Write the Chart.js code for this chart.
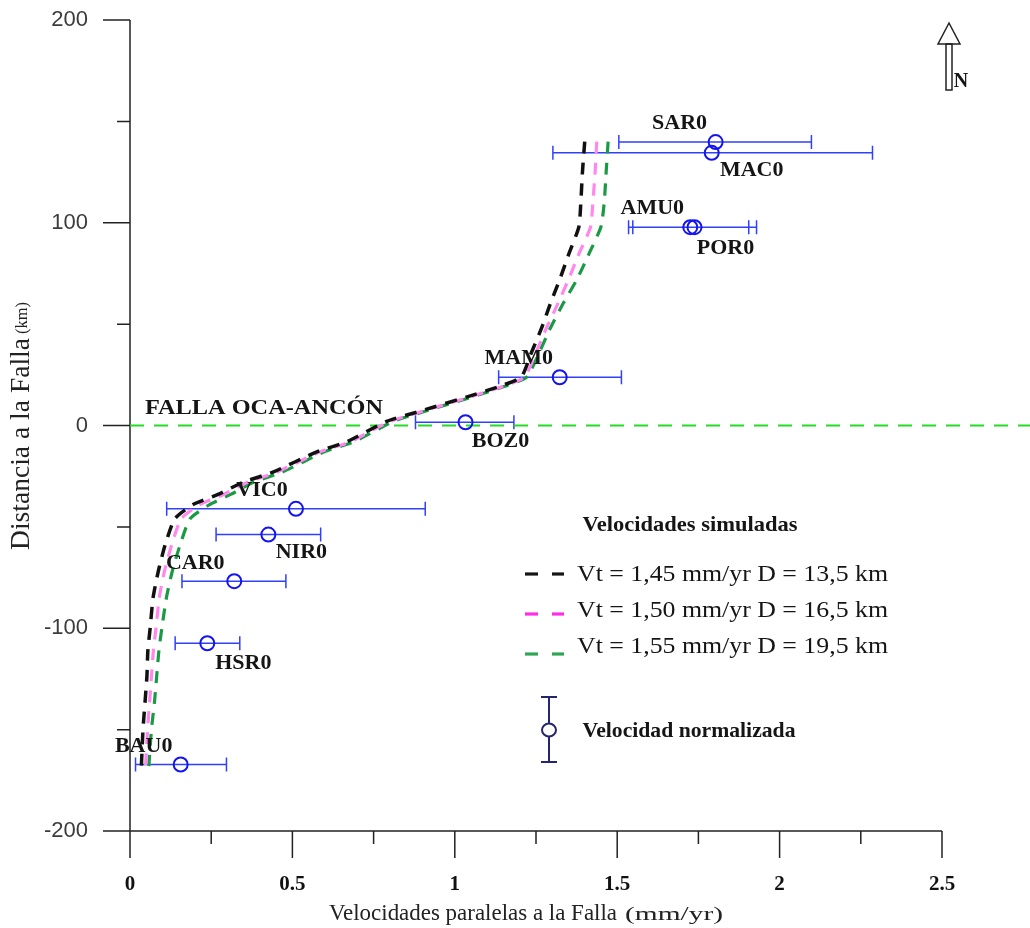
<!DOCTYPE html>
<html>
<head>
<meta charset="utf-8">
<script src="https://cdn.jsdelivr.net/npm/chart.js@4.4.1/dist/chart.umd.min.js"></script>
<style>
  html, body { margin: 0; padding: 0; background: #fff; }
</style>
</head>
<body>
<canvas id="perfil" width="1030" height="928"></canvas>
<script>
// Estaciones GPS: velocidad paralela a la falla (mm/yr) y distancia a la falla (km)
const stations = ['SAR0', 'MAC0', 'AMU0', 'POR0', 'MAM0', 'BOZ0', 'VIC0', 'NIR0', 'CAR0', 'HSR0', 'BAU0'];
const velX  = [1.803, 1.791, 1.725, 1.738, 1.323, 1.033, 0.511, 0.426, 0.321, 0.238, 0.156];
const distY = [139.8, 134.5, 97.8, 97.8, 23.8, 1.6, -41.1, -53.8, -76.8, -107.4, -167.2];
const velLo = [1.505, 1.302, 1.535, 1.548, 1.135, 0.879, 0.113, 0.265, 0.160, 0.139, 0.017];
const velHi = [2.098, 2.286, 1.905, 1.929, 1.513, 1.182, 0.909, 0.587, 0.480, 0.338, 0.297];

// Velocidades simuladas (modelo)
const modelY = [140, 125, 110, 98, 85, 72, 60, 48, 36, 24, 20, 15, 7, 2, -8, -13, -23, -28, -34, -39, -46, -59, -72, -85, -100, -111, -124, -137, -150, -168];
const modelA = [1.400, 1.393, 1.388, 1.382, 1.352, 1.323, 1.294, 1.267, 1.236, 1.205, 1.150, 1.055, 0.892, 0.790, 0.668, 0.575, 0.440, 0.348, 0.271, 0.194, 0.138, 0.108, 0.087, 0.071, 0.062, 0.055, 0.052, 0.046, 0.040, 0.035];
const modelB = [1.437, 1.432, 1.425, 1.418, 1.383, 1.350, 1.317, 1.282, 1.250, 1.215, 1.160, 1.065, 0.900, 0.800, 0.678, 0.585, 0.452, 0.362, 0.288, 0.215, 0.158, 0.128, 0.106, 0.090, 0.080, 0.072, 0.066, 0.060, 0.054, 0.048];
const modelC = [1.472, 1.466, 1.460, 1.450, 1.414, 1.376, 1.333, 1.294, 1.260, 1.222, 1.165, 1.072, 0.908, 0.810, 0.690, 0.598, 0.468, 0.380, 0.310, 0.245, 0.185, 0.154, 0.130, 0.112, 0.098, 0.089, 0.082, 0.075, 0.066, 0.058];
const modelLabels = ['Vt = 1,45 mm/yr D = 13,5 km', 'Vt = 1,50 mm/yr D = 16,5 km', 'Vt = 1,55 mm/yr D = 19,5 km'];

// Traza de la falla (y = 0)
const faultX = [0, 2.8];
const faultY = [0, 0];

const xTicks = [0, 0.5, 1, 1.5, 2, 2.5];
const yTicks = [-200, -100, 0, 100, 200];

// posición de las etiquetas respecto al círculo (px)
const labelOffsets = [[-36, -19], [40, 18], [-38, -19], [31, 21], [-41, -19], [35, 19], [-34, -19], [33, 18], [-39, -18], [36, 20], [-37, -18]];

const SERIF = '"Liberation Serif", "Times New Roman", serif';
const BLUE = '#1414f0';

function fitText(ctx, str, x, y, w, font, align) {
    ctx.font = font;
    const m = ctx.measureText(str).width;
    const s = w ? w / m : 1;
    ctx.save();
    ctx.translate(x, y);
    ctx.scale(s, 1);
    ctx.textAlign = align || 'center';
    ctx.textBaseline = 'middle';
    ctx.fillText(str, 0, 0);
    ctx.restore();
}

function dash(ctx, x1, x2, y, color, lw) {
    ctx.strokeStyle = color;
    ctx.lineWidth = lw;
    ctx.setLineDash([]);
    ctx.beginPath();
    ctx.moveTo(x1, y);
    ctx.lineTo(x2, y);
    ctx.stroke();
}

const annotate = {
    id: 'annotate',
    beforeDatasetsDraw(chart) {
        const ctx = chart.ctx;
        const xs = chart.scales.x, ys = chart.scales.y;
        const x0 = xs.getPixelForValue(0), y0 = ys.getPixelForValue(-200);
        ctx.save();
        ctx.strokeStyle = '#222';
        ctx.lineWidth = 1.5;
        ctx.beginPath();
        ctx.moveTo(x0, ys.getPixelForValue(200));
        ctx.lineTo(x0, y0);
        ctx.lineTo(xs.getPixelForValue(2.5), y0);
        for (let i = 0; i <= 10; i++) {
            const px = xs.getPixelForValue(i * 0.25);
            ctx.moveTo(px, y0);
            ctx.lineTo(px, y0 + (i % 2 === 0 ? 27 : 13));
        }
        for (let i = 0; i <= 8; i++) {
            const py = ys.getPixelForValue(-200 + i * 50);
            ctx.moveTo(x0, py);
            ctx.lineTo(x0 - (i % 2 === 0 ? 27 : 13), py);
        }
        ctx.stroke();

        // barras de error
        ctx.strokeStyle = '#3040ff';
        ctx.lineWidth = 1.5;
        ctx.beginPath();
        stations.forEach(function (s, i) {
            const py = ys.getPixelForValue(distY[i]);
            const a = xs.getPixelForValue(velLo[i]), b = xs.getPixelForValue(velHi[i]);
            ctx.moveTo(a, py); ctx.lineTo(b, py);
            ctx.moveTo(a, py - 7); ctx.lineTo(a, py + 7);
            ctx.moveTo(b, py - 7); ctx.lineTo(b, py + 7);
        });
        ctx.stroke();
        ctx.restore();
    },
    afterDatasetsDraw(chart) {
        const ctx = chart.ctx;
        const xs = chart.scales.x, ys = chart.scales.y;
        ctx.save();
        ctx.fillStyle = '#151515';
        const bold = 'bold 22px ' + SERIF;
        stations.forEach(function (s, i) {
            const px = xs.getPixelForValue(velX[i]), py = ys.getPixelForValue(distY[i]);
            fitText(ctx, s, px + labelOffsets[i][0], py + labelOffsets[i][1], 0, bold);
        });
        fitText(ctx, 'FALLA OCA-ANCÓN', 264, 408, 238, bold);

        // leyenda
        fitText(ctx, 'Velocidades simuladas', 690, 525, 215, bold);
        const rows = [[575, '#151515', 574], [611, '#ff2ce6', 614], [647, '#2ea655', 654]];
        rows.forEach(function (r, i) {
            dash(ctx, 525, 538, r[2], r[1], 3.2);
            dash(ctx, 552, 564, r[2], r[1], 3.2);
            ctx.fillStyle = '#151515';
            fitText(ctx, modelLabels[i], 577, r[0], 311, '24px ' + SERIF, 'left');
        });
        ctx.strokeStyle = '#25256e';
        ctx.lineWidth = 2;
        ctx.beginPath();
        ctx.moveTo(549, 697); ctx.lineTo(549, 723);
        ctx.moveTo(549, 737); ctx.lineTo(549, 762);
        ctx.moveTo(541, 697); ctx.lineTo(557, 697);
        ctx.moveTo(541, 762); ctx.lineTo(557, 762);
        ctx.stroke();
        ctx.beginPath();
        ctx.ellipse(549, 730, 7, 6.5, 0, 0, Math.PI * 2);
        ctx.stroke();
        fitText(ctx, 'Velocidad normalizada', 689, 731, 213, bold);

        // flecha norte
        ctx.strokeStyle = '#222';
        ctx.lineWidth = 1.5;
        ctx.fillStyle = '#fff';
        ctx.beginPath();
        ctx.moveTo(949, 23); ctx.lineTo(960, 44); ctx.lineTo(938, 44); ctx.closePath();
        ctx.fill(); ctx.stroke();
        ctx.strokeRect(946, 44, 6, 46);
        ctx.fillStyle = '#151515';
        fitText(ctx, 'N', 961, 82, 0, 'bold 20px ' + SERIF);

        // títulos de ejes
        ctx.fillStyle = '#222';
        fitText(ctx, 'Velocidades paralelas a la Falla', 329, 914, 288, '23px ' + SERIF, 'left');
        fitText(ctx, '(mm/yr)', 625, 915, 98, '19px ' + SERIF, 'left');
        ctx.save();
        ctx.translate(22, 0);
        ctx.rotate(-Math.PI / 2);
        fitText(ctx, 'Distancia a la Falla', -550, 0, 212, '27px ' + SERIF, 'left');
        fitText(ctx, '(km)', -334, 1, 32, '17px ' + SERIF, 'left');
        ctx.restore();
        ctx.restore();
    }
};

const ctx = document.getElementById('perfil');
new Chart(ctx, {
    type: 'scatter',
    data: {
        datasets: [
            {
                label: 'Velocidad normalizada',
                data: stations.map(function (s, i) { return { x: velX[i], y: distY[i] }; }),
                pointRadius: 7,
                pointBorderWidth: 2,
                borderColor: BLUE,
                backgroundColor: 'rgba(0,0,0,0)'
            },
            {
                label: modelLabels[0],
                data: modelY.map(function (y, i) { return { x: modelA[i], y: y }; }),
                showLine: true, pointRadius: 0, tension: 0.2,
                borderColor: '#111', borderWidth: 3.5, borderDash: [12, 9]
            },
            {
                label: modelLabels[1],
                data: modelY.map(function (y, i) { return { x: modelB[i], y: y }; }),
                showLine: true, pointRadius: 0, tension: 0.2,
                borderColor: '#ff88ee', borderWidth: 3.2, borderDash: [12, 9]
            },
            {
                label: modelLabels[2],
                data: modelY.map(function (y, i) { return { x: modelC[i], y: y }; }),
                showLine: true, pointRadius: 0, tension: 0.2,
                borderColor: '#1a9a44', borderWidth: 3.2, borderDash: [12, 9]
            },
            {
                label: 'FALLA OCA-ANCÓN',
                data: faultX.map(function (x, i) { return { x: x, y: faultY[i] }; }),
                showLine: true, pointRadius: 0, clip: false,
                borderColor: '#22dd22', borderWidth: 2, borderDash: [14, 10]
            }
        ]
    },
    options: {
        responsive: false,
        animation: false,
        events: [],
        layout: { padding: { top: 20, right: 88, left: 0, bottom: 0 } },
        plugins: { legend: { display: false }, tooltip: { enabled: false } },
        scales: {
            x: {
                type: 'linear', min: 0, max: 2.5,
                afterBuildTicks: function (s) { s.ticks = xTicks.map(function (v) { return { value: v }; }); },
                ticks: {
                    padding: 41, color: '#111',
                    font: { family: SERIF, size: 21, weight: 'bold' },
                    callback: function (v) { return String(v); }
                },
                grid: { display: false, drawTicks: false },
                border: { display: false },
                afterFit: function (s) { s.height = 97; }
            },
            y: {
                type: 'linear', min: -200, max: 200,
                afterBuildTicks: function (s) { s.ticks = yTicks.map(function (v) { return { value: v }; }); },
                ticks: {
                    padding: 42, color: '#3c3c3c',
                    font: { family: '"Liberation Sans", Arial, sans-serif', size: 22 },
                    callback: function (v) { return String(v); }
                },
                grid: { display: false, drawTicks: false },
                border: { display: false },
                afterFit: function (s) { s.width = 130; s.paddingTop = 0; s.paddingBottom = 0; }
            }
        }
    },
    plugins: [annotate]
});
</script>
</body>
</html>
